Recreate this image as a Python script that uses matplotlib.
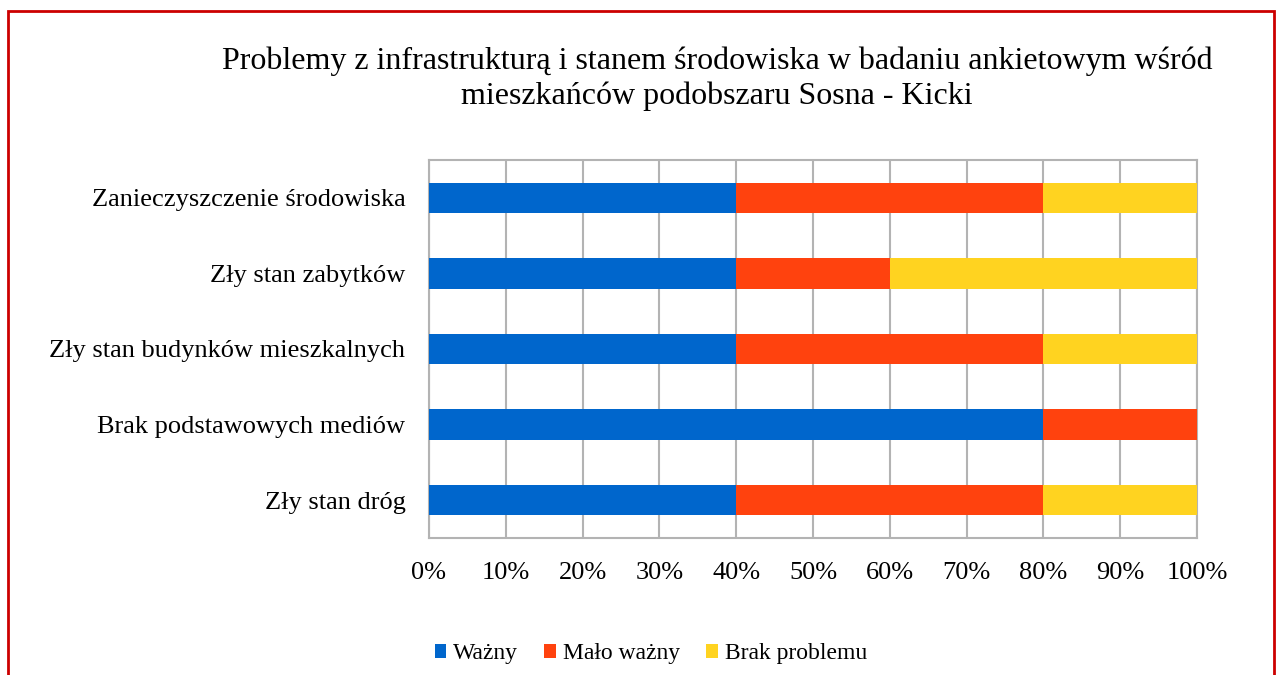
import matplotlib.pyplot as plt
from matplotlib.patches import Rectangle
from matplotlib.ticker import PercentFormatter

plt.rcParams['font.family'] = ['Liberation Serif', 'DejaVu Serif']

# Dane z ankiety (od dołu wykresu do góry)
kategorie = ['Zły stan dróg', 'Brak podstawowych mediów', 'Zły stan budynków mieszkalnych',
             'Zły stan zabytków', 'Zanieczyszczenie środowiska']
wazny = [40, 80, 40, 40, 40]
malo_wazny = [40, 20, 40, 20, 40]
brak_problemu = [20, 0, 20, 40, 20]

serie = ['Ważny', 'Mało ważny', 'Brak problemu']
kolory = ['#0066CC', '#FF420E', '#FFD320']

fig = plt.figure(figsize=(12.81, 6.75), dpi=100)
ax = fig.add_axes([429 / 1281, 1 - 538 / 675, 768 / 1281, 378 / 675])

lewo = [0] * len(kategorie)
for nazwa, wartosci, kolor in zip(serie, [wazny, malo_wazny, brak_problemu], kolory):
    ax.barh(kategorie, wartosci, left=lewo, height=0.4, color=kolor, label=nazwa, zorder=3)
    lewo = [a + b for a, b in zip(lewo, wartosci)]

ax.set_xlim(0, 100)
ax.set_ylim(-0.5, len(kategorie) - 0.5)
ax.set_xticks(range(0, 101, 10))
ax.xaxis.set_major_formatter(PercentFormatter(decimals=0))
ax.grid(axis='x', color='#B3B3B3', linewidth=1.5, zorder=0)
for s in ax.spines.values():
    s.set_color('#B3B3B3')
    s.set_linewidth(1.5)
ax.tick_params(length=0, labelsize=19, pad=17)

fig.text(717 / 1281, 1 - 79 / 675,
         'Problemy z infrastrukturą i stanem środowiska w badaniu ankietowym wśród\n'
         'mieszkańców podobszaru Sosna - Kicki',
         ha='center', va='center', fontsize=23, linespacing=1.25)

fig.legend(loc='center', bbox_to_anchor=(651 / 1281, 1 - 654 / 675), ncol=3,
           frameon=False, fontsize=17, handlelength=0.5, handleheight=0.55,
           handletextpad=0.3, columnspacing=1.1)

# Czerwona ramka wokół wykresu
fig.add_artist(Rectangle((8 / 1281, -0.1), 1266 / 1281, 1.1 - 11 / 675,
                         transform=fig.transFigure, fill=False,
                         edgecolor='#CC0000', linewidth=2))

fig.savefig('out.png', dpi=100)
